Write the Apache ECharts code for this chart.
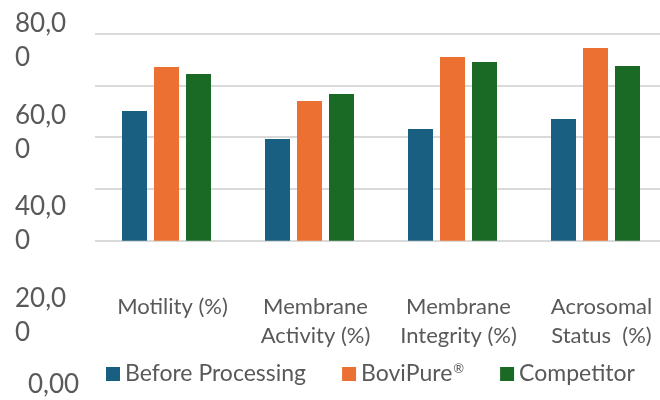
<!DOCTYPE html>
<html>
<head>
<meta charset="utf-8">
<script src="https://cdn.jsdelivr.net/npm/echarts@6/dist/echarts.min.js"></script>
<style>
  html, body { margin: 0; padding: 0; background: #ffffff; }
  #chart { width: 660px; height: 400px; }
</style>
</head>
<body>
<div id="chart"></div>
<script>
// Sperm quality parameters by treatment
const categories = ['Motility (%)', 'Membrane\nActivity (%)', 'Membrane\nIntegrity (%)', 'Acrosomal\nStatus  (%)'];
const seriesNames = ['Before Processing', 'BoviPure®', 'Competitor'];
const beforeProcessing = [50.1, 39.3, 43.2, 47.0];
const boviPure = [67.1, 54.0, 71.0, 74.5];
const competitor = [64.4, 56.7, 69.1, 67.5];
const tickValues = [0, 20, 40, 60, 80];
const tickLabels = ['0,00', '20,00', '40,00', '60,00', '80,00'];

const colors = ['#185f81', '#eb7031', '#1a6a25'];
const textColor = '#595959';
const fontFamily = 'Lato, "Open Sans", sans-serif';

const chart = echarts.init(document.getElementById('chart'), null, { renderer: 'canvas' });

const seriesData = [beforeProcessing, boviPure, competitor];

chart.setOption({
  animation: false,
  color: colors,
  textStyle: { fontFamily: fontFamily },
  grid: [
    // plot area runs slightly past the right edge of the canvas
    { left: 95, width: 572, top: 33.7, height: 207, outerBoundsMode: 'none', containLabel: false },
    // separate strip that carries the value labels
    { left: 15, width: 80, top: 40.5, height: 367, outerBoundsMode: 'none', containLabel: false }
  ],
  legend: {
    data: seriesNames,
    left: 101,
    top: 357.5,
    icon: 'rect',
    itemWidth: 14,
    itemHeight: 14,
    itemGap: 36,
    formatter: function (name) {
      return name.replace('®', '{r|®}');
    },
    textStyle: {
      color: textColor,
      fontSize: 23,
      fontFamily: fontFamily,
      rich: {
        r: { fontSize: 13, color: textColor, fontFamily: fontFamily, verticalAlign: 'top', padding: [0, 0, 8, 1] }
      }
    }
  },
  xAxis: [
    {
      type: 'category',
      gridIndex: 0,
      data: categories,
      axisLine: { show: false },
      axisTick: { show: false },
      axisLabel: {
        color: textColor,
        fontSize: 22,
        fontFamily: fontFamily,
        lineHeight: 29,
        margin: 52,
        interval: 0,
        padding: [0, 0, 0, 12]
      }
    },
    {
      type: 'value',
      gridIndex: 1,
      show: false
    }
  ],
  yAxis: [
    {
      type: 'value',
      gridIndex: 0,
      min: 0,
      max: 80,
      interval: 20,
      axisLabel: { show: false },
      axisLine: { show: false },
      axisTick: { show: false },
      splitLine: { lineStyle: { color: '#d9d9d9', width: 2 } }
    },
    {
      type: 'value',
      gridIndex: 1,
      min: tickValues[0],
      max: tickValues[tickValues.length - 1],
      interval: 20,
      axisLine: { show: false },
      axisTick: { show: false },
      splitLine: { show: false },
      axisLabel: {
        margin: 0,
        align: 'left',
        color: textColor,
        fontSize: 26,
        fontFamily: fontFamily,
        lineHeight: 34,
        width: 58,
        overflow: 'breakAll',
        formatter: function (v) {
          const label = tickLabels[tickValues.indexOf(v)];
          return v === 0 ? '{z|' + label + '}' : label;
        },
        rich: {
          z: { fontSize: 26, color: textColor, fontFamily: fontFamily, padding: [0, 0, 46, 13] }
        }
      }
    }
  ],
  series: seriesData.map(function (d, i) {
    return {
      name: seriesNames[i],
      type: 'bar',
      xAxisIndex: 0,
      yAxisIndex: 0,
      data: d,
      barWidth: 25,
      barGap: '28%'
    };
  })
});
</script>
</body>
</html>
